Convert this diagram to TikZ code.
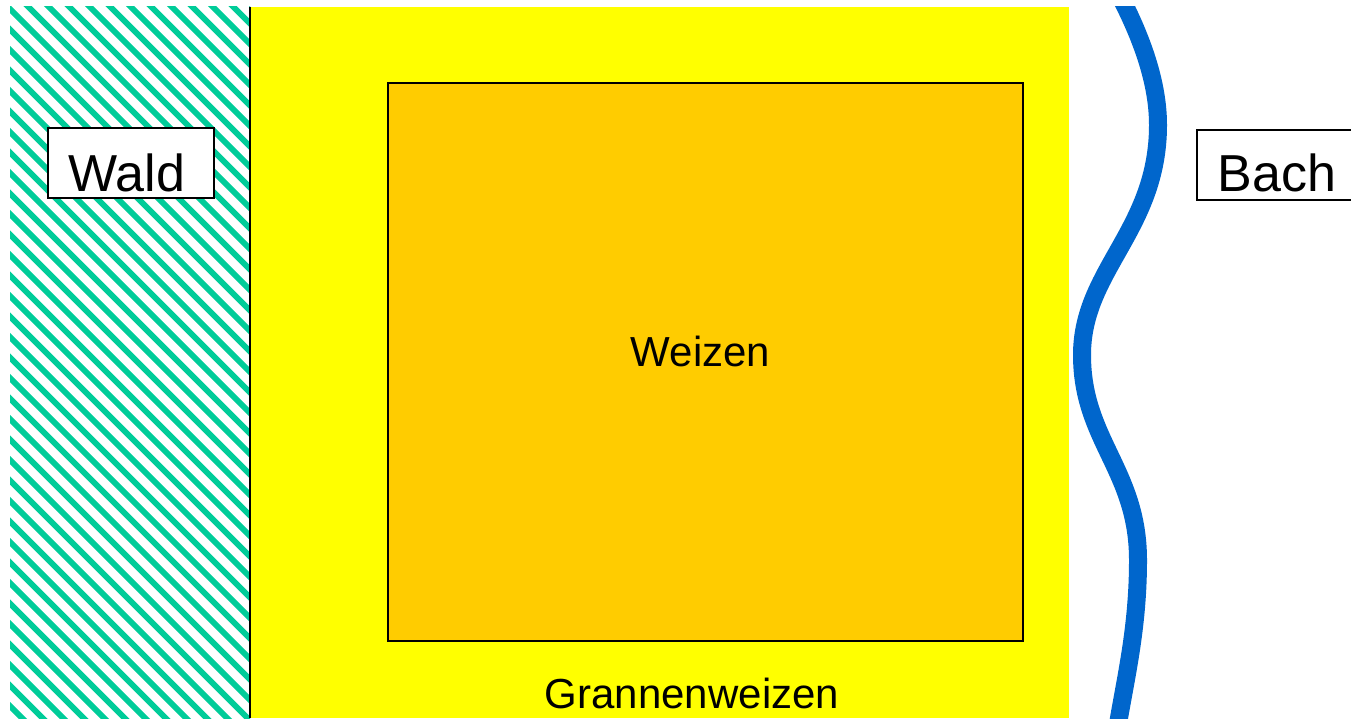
\documentclass[tikz,border=0pt]{standalone}
\usepackage{fontspec}
\setmainfont{Liberation Sans}
\definecolor{forestteal}{RGB}{0,204,153}
\definecolor{fieldyellow}{RGB}{255,255,0}
\definecolor{wheatorange}{RGB}{255,204,0}
\definecolor{brookblue}{RGB}{0,102,204}
\tikzset{
  hatchline/.style={draw=forestteal, line width=5.8pt},
  labelbox/.style={draw=black, fill=white, line width=1.2pt, inner sep=0pt},
  bigtext/.style={inner sep=0pt, font=\fontsize{42}{50}\selectfont},
  hugetext/.style={inner sep=0pt, font=\fontsize{52}{60}\selectfont},
}
\begin{document}
\begin{tikzpicture}[x=1pt,y=-1pt]
\useasboundingbox (0,0) rectangle (1351,719);
\fill[white] (0,0) rectangle (1351,719);
% forest hatching
\begin{scope}
  \clip (10,7) rectangle (250,718);
  \foreach \k in {-38,...,14} {
    \draw[hatchline] ({20.5*\k+1},0) -- ++(740,740);
  }
\end{scope}
% field
\fill[fieldyellow] (251,7) rectangle (1069,718);
\draw[black, line width=2pt] (250,7) -- (250,718);
\node[draw=black, fill=wheatorange, line width=1.3pt, minimum width=635pt, minimum height=558pt, inner sep=0pt] (weizenfeld) at (705.5,362) {};
\node[bigtext, anchor=base] (weizen) at (700.5,366) {Weizen};
\node[bigtext, anchor=base] (granne) at (692,708) {Grannenweizen};
% labels
\node[labelbox, minimum width=166pt, minimum height=70pt] (waldbox) at (131,163) {};
\node[hugetext, anchor=base] (wald) at (127,192) {Wald};
\node[labelbox, minimum width=170pt, minimum height=70pt] (bachbox) at (1282,165) {};
\node[hugetext, anchor=base] (bach) at (1277,192) {Bach};
% brook
\begin{scope}
  \clip (1000,7) rectangle (1351,719);
  \draw[brookblue, line width=18pt] (1122,0)
    .. controls (1150,55) and (1158,95) .. (1158,125)
    .. controls (1158,230) and (1082,270) .. (1082,355)
    .. controls (1082,440) and (1138,470) .. (1138,560)
    .. controls (1138,630) and (1125,680) .. (1117,730);
\end{scope}
\end{tikzpicture}
\end{document}
